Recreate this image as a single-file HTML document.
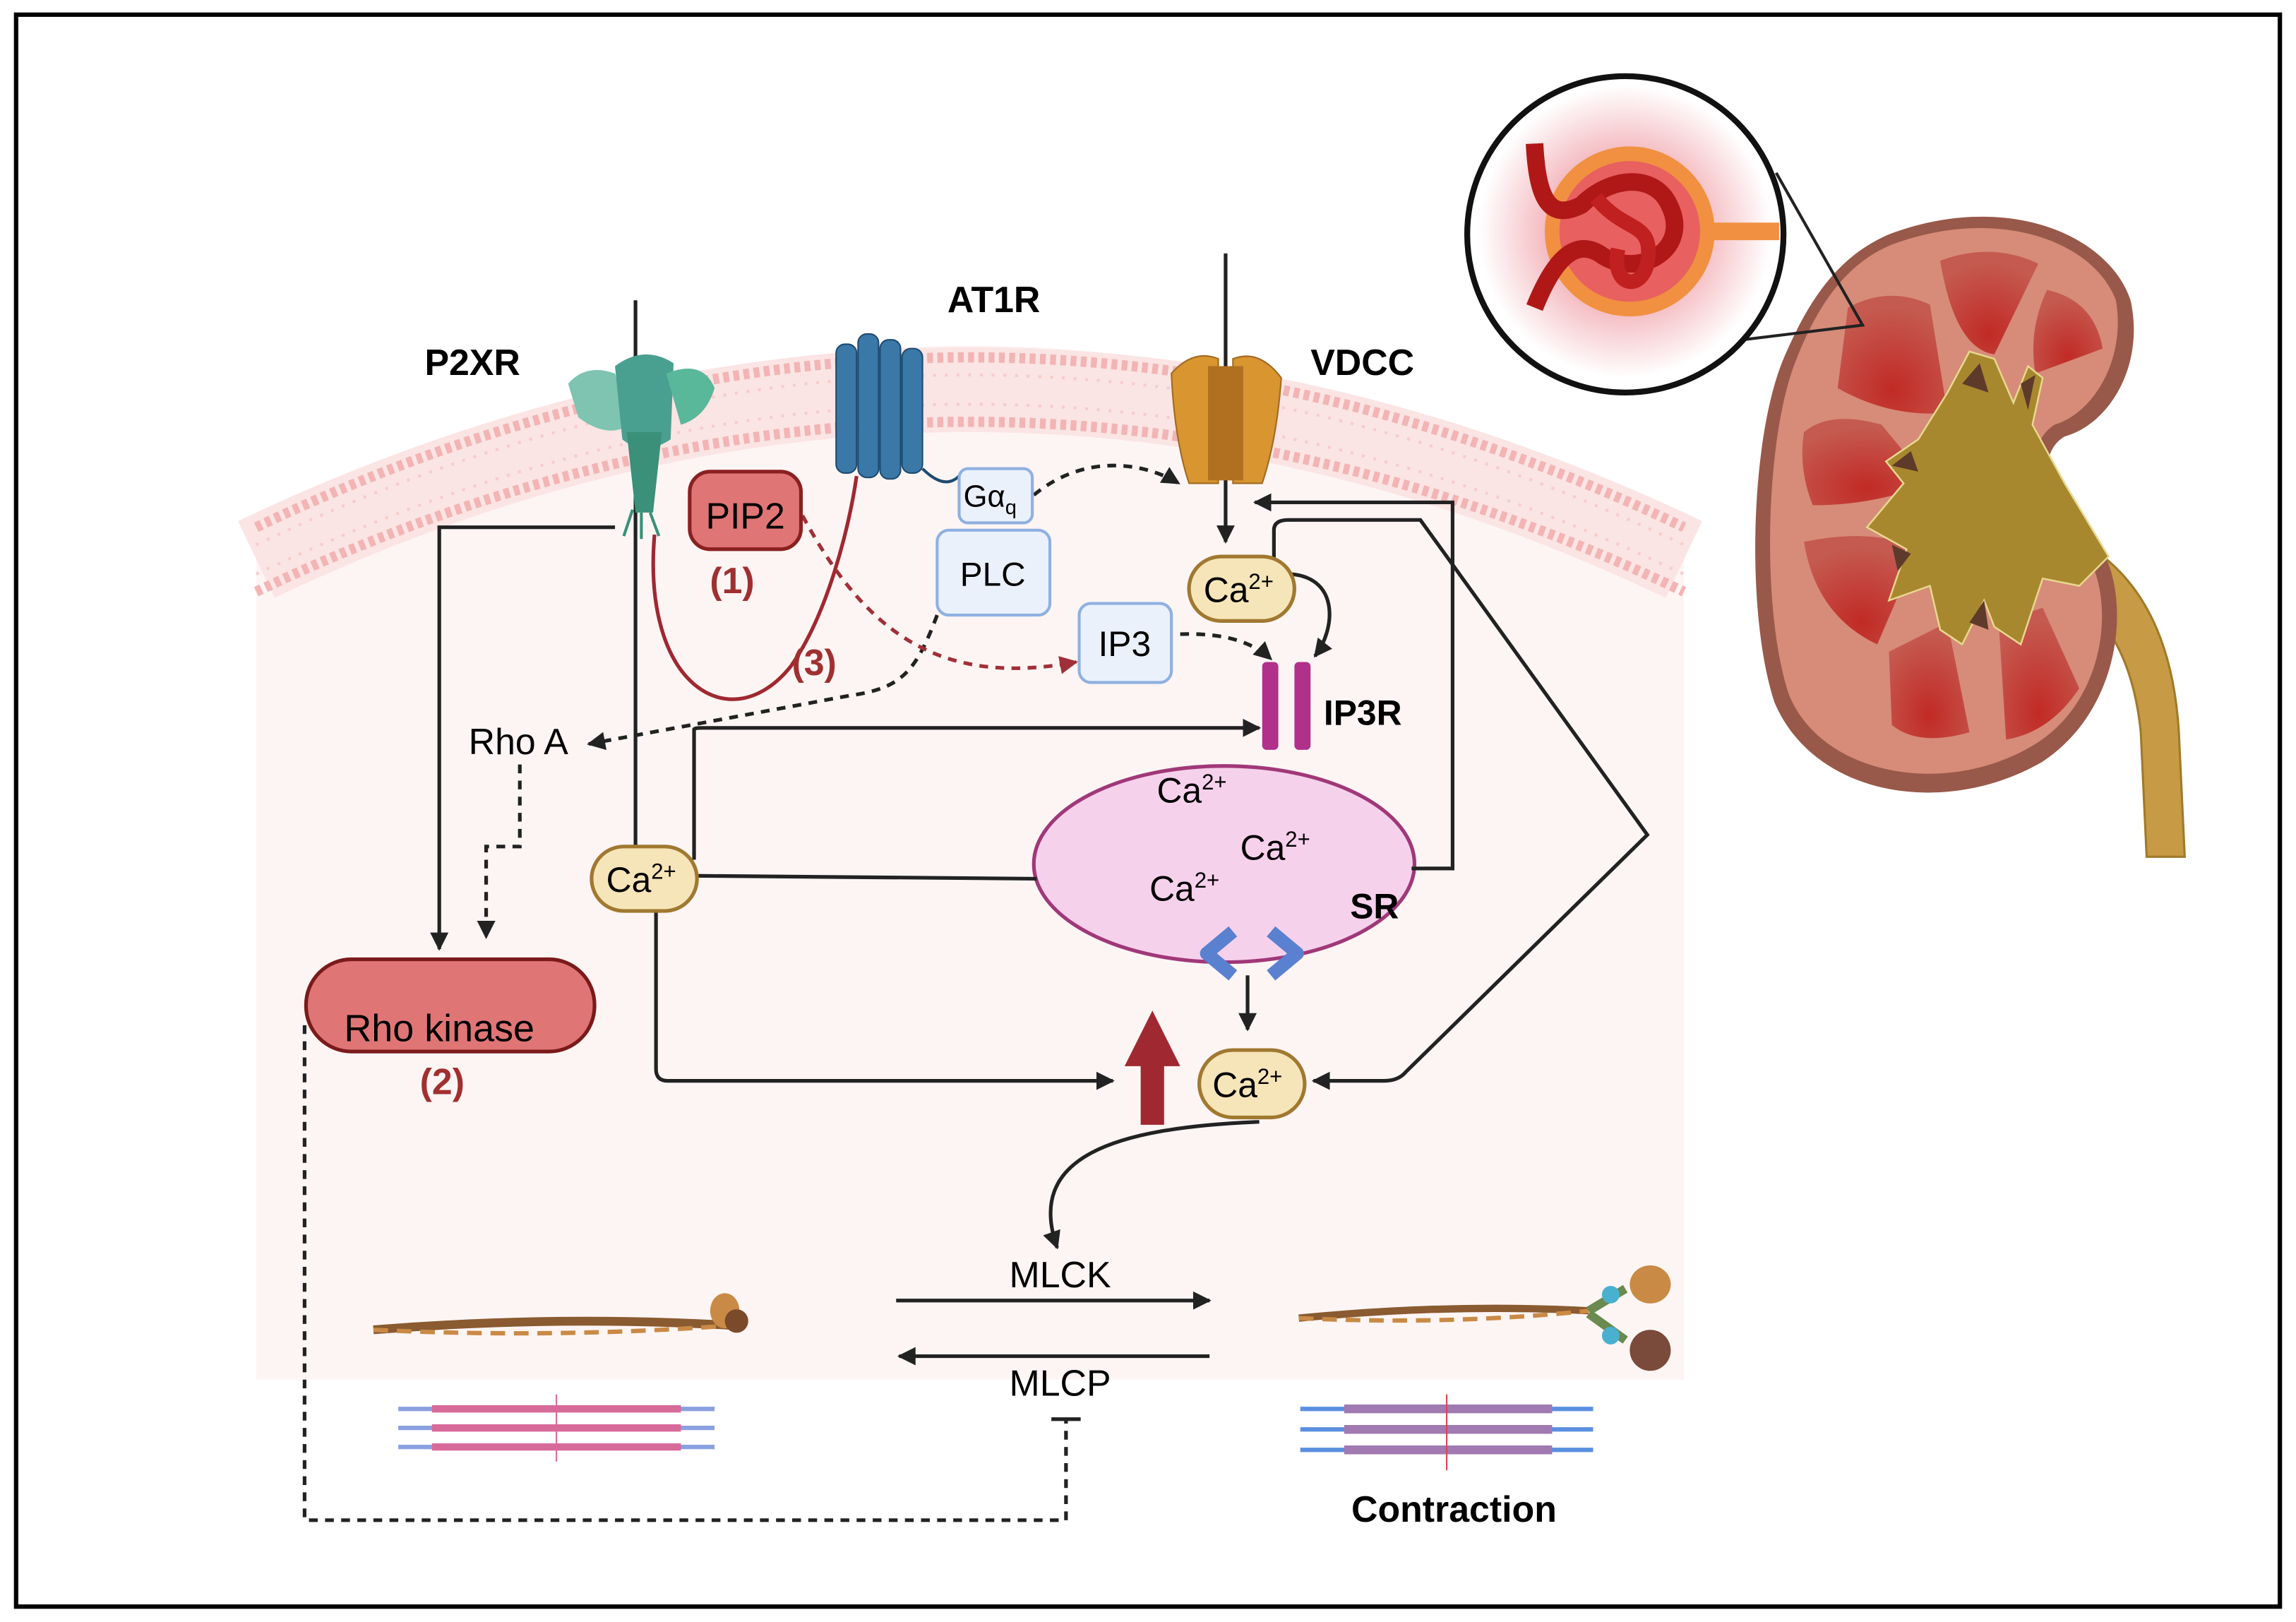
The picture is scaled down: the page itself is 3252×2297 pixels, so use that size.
<!DOCTYPE html>
<html><head><meta charset="utf-8"><style>
html,body{margin:0;padding:0;background:#fff;}
svg{display:block;}
text{font-family:"Liberation Sans",sans-serif;}
</style></head><body>
<svg width="3252" height="2297" viewBox="0 0 1568 1107.5" xmlns="http://www.w3.org/2000/svg">
<defs>
<marker id="a" viewBox="0 0 10 10" refX="9" refY="5" markerWidth="5" markerHeight="5" orient="auto-start-reverse"><path d="M0,0L10,5L0,10Z" fill="#222"/></marker>
<marker id="ar" viewBox="0 0 10 10" refX="9" refY="5" markerWidth="5" markerHeight="5" orient="auto"><path d="M0,0L10,5L0,10Z" fill="#a03038"/></marker>
<radialGradient id="mag" cx="0.5" cy="0.5" r="0.5"><stop offset="0.3" stop-color="#e04050"/><stop offset="1" stop-color="#fff"/></radialGradient>
<radialGradient id="pyr" cx="0.5" cy="0.8" r="0.7"><stop offset="0" stop-color="#c22a25"/><stop offset="1" stop-color="#c45a50"/></radialGradient>
</defs>
<rect x="11" y="10" width="1546" height="1087" fill="#fff" stroke="#000" stroke-width="3"/>

<path d="M175,372 Q662,100 1150,372 L1150,942 L175,942 Z" fill="#fdf5f4"/>
<path d="M175,382 Q662,150 1150,382" fill="none" stroke="#fbe4e4" stroke-width="58"/>
<path d="M175,360 Q662,128 1150,360" fill="none" stroke="#f2b4b4" stroke-width="7" stroke-dasharray="4 3"/>
<path d="M175,404 Q662,172 1150,404" fill="none" stroke="#f2b4b4" stroke-width="7" stroke-dasharray="4 3"/>
<path d="M175,372 Q662,140 1150,372" fill="none" stroke="#f7cccc" stroke-width="2" stroke-dasharray="2 6"/>
<path d="M175,392 Q662,160 1150,392" fill="none" stroke="#f7cccc" stroke-width="2" stroke-dasharray="2 6"/>

<g>
<path d="M255,908 Q380,898 500,905" stroke="#8a5a30" stroke-width="6" fill="none"/>
<path d="M255,908 Q380,914 500,905" stroke="#c98a45" stroke-width="3" fill="none" stroke-dasharray="10 6"/>
<ellipse cx="495" cy="895" rx="10" ry="12" fill="#c98a45"/><ellipse cx="503" cy="902" rx="8" ry="8" fill="#7a4a2a"/>
<g stroke-width="3" fill="none">
<path d="M272,962 H488 M272,975 H488 M272,988 H488" stroke="#8aa0e0"/>
<path d="M295,962 H465 M295,975 H465 M295,988 H465" stroke="#d86a9a" stroke-width="5"/>
<path d="M380,952 V998" stroke="#d86a9a" stroke-width="1"/>
</g>
<path d="M887,900 Q990,890 1085,895" stroke="#8a5a30" stroke-width="5" fill="none"/>
<path d="M887,900 Q990,905 1085,895" stroke="#c98a45" stroke-width="3" fill="none" stroke-dasharray="10 6"/>
<path d="M1085,895 L1110,880 M1085,897 L1110,915" stroke="#6a8a50" stroke-width="6"/>
<circle cx="1100" cy="884" r="6" fill="#4ab0d0"/><circle cx="1100" cy="912" r="6" fill="#4ab0d0"/>
<ellipse cx="1127" cy="877" rx="14" ry="13" fill="#c98a45"/><ellipse cx="1127" cy="922" rx="14" ry="14" fill="#7a4a3a"/>
<g stroke-width="3" fill="none">
<path d="M888,962 H1088 M888,976 H1088 M888,990 H1088" stroke="#5a90e0"/>
<path d="M918,962 H1060 M918,976 H1060 M918,990 H1060" stroke="#a07ab0" stroke-width="6"/>
<path d="M988,952 V1004" stroke="#e04050" stroke-width="1"/>
</g>
</g>

<ellipse cx="836" cy="590" rx="130" ry="67" fill="#f6d1ec" stroke="#a03878" stroke-width="2.5"/>
<text x="790" y="548" font-size="24">Ca<tspan font-size="15" dy="-9">2+</tspan></text>
<text x="847" y="587" font-size="24">Ca<tspan font-size="15" dy="-9">2+</tspan></text>
<text x="785" y="615" font-size="24">Ca<tspan font-size="15" dy="-9">2+</tspan></text>
<text x="922" y="627" font-size="24" font-weight="bold">SR</text>
<path d="M842,636 L824,651 L842,666 M868,636 L886,651 L868,666" stroke="#5a80d0" stroke-width="9" fill="none" stroke-linejoin="round"/>

<g stroke="#222" stroke-width="2.5" fill="none">
<path d="M434,205 V593" marker-end="url(#a)"/>
<path d="M837,173 V370" marker-end="url(#a)"/>
<path d="M420,360 H300 V648" marker-end="url(#a)"/>
<path d="M474,587 V498 Q474,497 480,497 H860" marker-end="url(#a)"/>
<path d="M476,598 L708,600"/>
<path d="M448,622 V730 Q448,738 456,738 H760" marker-end="url(#a)"/>
<path d="M964,593 H992 V343 H857" marker-end="url(#a)"/>
<path d="M870,382 V362 Q870,355 880,355 H970 L1125,570 L960,732 Q955,738 945,738 H897" marker-end="url(#a)"/>
<path d="M882,392 C915,395 912,430 898,448" marker-end="url(#a)"/>
<path d="M852,666 V703" marker-end="url(#a)"/>
<path d="M860,766 C760,770 700,790 722,852" marker-end="url(#a)"/>
<path d="M612,888 H826" marker-end="url(#a)"/>
<path d="M826,926 H614" marker-end="url(#a)"/>
</g>
<g stroke="#222" stroke-width="2.5" fill="none" stroke-dasharray="6 5">
<path d="M706,338 C740,310 780,315 805,330" marker-end="url(#a)"/>
<path d="M806,433 C835,432 855,438 868,450" marker-end="url(#a)"/>
<path d="M640,420 C625,460 615,470 580,475 L402,508" marker-end="url(#a)"/>
<path d="M355,522 V578 H332 V640" marker-end="url(#a)"/>
<path d="M208,700 V1038 H728 V970"/>
<path d="M718,969 H738" stroke-dasharray="none"/>
</g>
<path d="M447,365 C438,470 500,505 540,455 C565,420 580,360 585,325" stroke="#a02830" stroke-width="2.5" fill="none"/>
<path d="M548,352 C590,430 640,470 735,452" stroke="#a03038" stroke-width="2.5" fill="none" stroke-dasharray="6 5" marker-end="url(#ar)"/>

<path d="M779,768 V728 H768 L787,690 L806,728 H795 V768 Z" fill="#a02830"/>

<g>
<path d="M388,262 Q400,248 420,255 L430,290 Q415,300 395,285 Z" fill="#7ec4b0"/>
<path d="M420,250 Q440,235 460,248 L458,300 Q440,312 425,300 Z" fill="#4aa090"/>
<path d="M455,255 Q480,245 488,265 Q482,285 465,290 Z" fill="#5ab89a"/>
<path d="M428,295 L452,295 L446,350 L434,350 Z" fill="#3a9078"/>
<path d="M432,348 l-6,18 M438,350 l0,18 M444,350 l6,16" stroke="#3a9078" stroke-width="2"/>
</g>
<g fill="#3a78a8" stroke="#1f4a70" stroke-width="1">
<rect x="571" y="235" width="14" height="88" rx="6"/><rect x="586" y="228" width="14" height="98" rx="6"/>
<rect x="601" y="232" width="14" height="95" rx="6"/><rect x="616" y="238" width="14" height="85" rx="6"/>
</g>
<path d="M630,320 Q645,335 655,325" stroke="#1f4a70" stroke-width="2" fill="none"/>
<g fill="#d89530" stroke="#a06a20" stroke-width="1">
<path d="M800,255 Q815,238 832,245 L832,330 L812,330 Q802,300 800,255 Z"/>
<path d="M842,245 Q860,238 875,258 Q872,300 862,330 L842,330 Z"/>
</g>
<rect x="825" y="250" width="24" height="78" fill="#b07020"/>

<rect x="471" y="322" width="76" height="53" rx="14" fill="#e07575" stroke="#8b2020" stroke-width="2.5"/>
<text x="509" y="361" font-size="25" text-anchor="middle">PIP2</text>
<text x="500" y="405" font-size="25" font-weight="bold" fill="#a03030" text-anchor="middle">(1)</text>
<text x="556" y="461" font-size="25" font-weight="bold" fill="#a03030" text-anchor="middle">(3)</text>
<rect x="655" y="320" width="50" height="37" rx="6" fill="#eaf1fb" stroke="#8fb0e0" stroke-width="2"/>
<text x="658" y="346" font-size="21">Gα<tspan font-size="14" dy="5">q</tspan></text>
<rect x="640" y="362" width="77" height="58" rx="8" fill="#eaf1fb" stroke="#8fb0e0" stroke-width="2"/>
<text x="678" y="400" font-size="23" text-anchor="middle">PLC</text>
<rect x="737" y="412" width="63" height="54" rx="8" fill="#eaf1fb" stroke="#8fb0e0" stroke-width="2"/>
<text x="768" y="448" font-size="24" text-anchor="middle">IP3</text>

<g fill="#f6e5b8" stroke="#a07830" stroke-width="2.5">
<rect x="812" y="380" width="72" height="44" rx="22"/>
<rect x="404" y="578" width="72" height="44" rx="22"/>
<rect x="819" y="717" width="72" height="46" rx="23"/>
</g>
<text x="822" y="411" font-size="24">Ca<tspan font-size="15" dy="-9">2+</tspan></text>
<text x="414" y="609" font-size="24">Ca<tspan font-size="15" dy="-9">2+</tspan></text>
<text x="828" y="749" font-size="24">Ca<tspan font-size="15" dy="-9">2+</tspan></text>

<rect x="862" y="452" width="11" height="60" rx="3" fill="#b0308a"/>
<rect x="884" y="452" width="11" height="60" rx="3" fill="#b0308a"/>
<text x="904" y="495" font-size="24" font-weight="bold">IP3R</text>

<text x="320" y="515" font-size="25">Rho A</text>
<rect x="209" y="655" width="197" height="63" rx="31" fill="#e07575" stroke="#7a1a1a" stroke-width="2.5"/>
<text x="300" y="711" font-size="26" text-anchor="middle">Rho kinase</text>
<text x="302" y="747" font-size="25" font-weight="bold" fill="#a03030" text-anchor="middle">(2)</text>

<text x="724" y="879" font-size="25" text-anchor="middle">MLCK</text>
<text x="724" y="953" font-size="25" text-anchor="middle">MLCP</text>
<text x="993" y="1039" font-size="25" font-weight="bold" text-anchor="middle">Contraction</text>
<text x="290" y="256" font-size="25" font-weight="bold">P2XR</text>
<text x="647" y="213" font-size="25" font-weight="bold">AT1R</text>
<text x="895" y="256" font-size="25" font-weight="bold">VDCC</text>

<!-- kidney -->
<path d="M1425,372 C1470,400 1485,450 1488,500 L1492,585 L1466,585 L1462,500 C1458,460 1445,425 1410,400 Z" fill="#c79a45" stroke="#a07a2a" stroke-width="1.5"/>
<path d="M1290,160 C1370,130 1440,160 1455,205 C1465,250 1440,290 1410,298 C1390,310 1395,345 1430,368 C1455,395 1455,480 1395,520 C1330,558 1240,545 1212,480 C1192,420 1195,300 1218,245 C1235,205 1255,175 1290,160 Z" fill="#98594a"/>
<path d="M1292,167 C1365,140 1430,165 1445,205 C1452,245 1430,282 1403,290 C1380,305 1385,350 1420,372 C1445,398 1443,475 1390,508 C1330,545 1245,530 1222,475 C1203,420 1205,305 1225,250 C1240,210 1260,180 1292,167 Z" fill="#d68c78"/>
<g fill="url(#pyr)">
<path d="M1325,178 Q1360,165 1392,180 L1362,242 Q1335,238 1325,178 Z"/>
<path d="M1262,210 Q1290,195 1318,208 L1330,282 Q1290,285 1255,265 Z"/>
<path d="M1398,198 Q1430,205 1436,238 L1390,255 Q1385,225 1398,198 Z"/>
<path d="M1232,295 Q1250,280 1285,290 L1318,330 Q1280,345 1238,345 Q1228,320 1232,295 Z"/>
<path d="M1232,370 Q1280,360 1310,375 L1282,440 Q1240,420 1232,370 Z"/>
<path d="M1290,445 L1330,425 L1345,500 Q1310,510 1292,495 Z"/>
<path d="M1365,425 L1395,415 L1420,470 Q1400,500 1370,505 Z"/>
</g>
<path d="M1330,268 L1345,240 L1362,245 L1375,275 L1385,250 L1395,258 L1388,290 L1410,330 L1440,380 L1420,400 L1395,395 L1380,440 L1362,428 L1355,410 L1340,440 L1325,430 L1318,400 L1290,410 L1302,375 L1275,360 L1300,330 L1288,315 L1310,300 Z" fill="#a8882e" stroke="#e8d890" stroke-width="1.2"/>
<g fill="#5e3a2a"><path d="M1340,262 L1352,248 L1358,268 Z"/><path d="M1380,262 L1390,256 L1385,280 Z"/><path d="M1292,318 L1305,308 L1310,322 Z"/><path d="M1292,372 L1305,378 L1296,390 Z"/><path d="M1345,425 L1355,410 L1358,430 Z"/></g>

<path d="M1213,118 L1272,222 L1190,232" stroke="#222" stroke-width="2" fill="none"/>
<circle cx="1110" cy="160" r="108" fill="#fff"/>
<circle cx="1110" cy="158" r="100" fill="url(#mag)" opacity="0.55"/>
<circle cx="1113" cy="158" r="58" fill="#f09040"/>
<circle cx="1113" cy="158" r="48" fill="#e86060"/>
<path d="M1165,158 H1215" stroke="#f09040" stroke-width="12"/>
<path d="M1048,98 C1050,140 1060,150 1080,140 C1100,120 1130,118 1140,140 C1155,170 1120,190 1095,175 C1075,160 1060,180 1048,210" stroke="#b01818" stroke-width="12" fill="none"/>
<path d="M1090,135 C1110,160 1130,150 1125,180 C1120,200 1100,195 1105,170" stroke="#c02020" stroke-width="10" fill="none"/>
<circle cx="1110" cy="160" r="108" fill="none" stroke="#111" stroke-width="4"/>
</svg>
</body></html>
